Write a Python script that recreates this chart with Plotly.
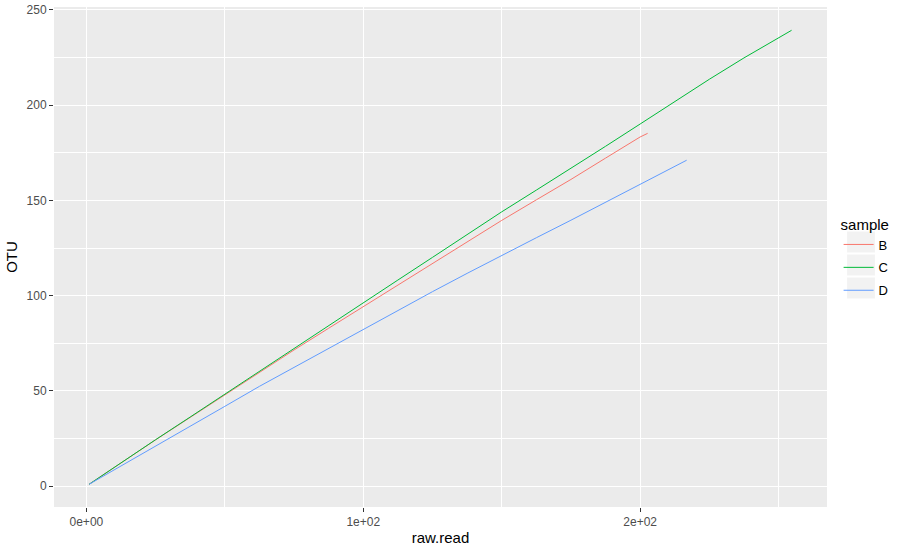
import plotly.graph_objects as go

# Data (raw.read vs OTU rarefaction curves)
b_x = [1, 12.5, 25, 37.5, 50, 62.5, 75, 87.5, 100, 112.5, 125, 137.5, 150, 162.5, 175, 187.5, 200, 202.7]
b_y = [1, 12.3, 24.3, 36.1, 48, 59.9, 71.5, 82.9, 94.2, 105.6, 117, 128.3, 139.5, 150.3, 161, 172.2, 183.3, 185.2]

c_x = [1, 12.5, 25, 37.5, 50, 62.5, 75, 87.5, 100, 112.5, 125, 137.5, 150, 162.5, 175, 187.5, 200, 212.5, 225, 237.5, 250, 254.7]
c_y = [1, 12.3, 24.4, 36.3, 48.3, 60.5, 72.6, 84.5, 96.2, 108.2, 120.1, 132.1, 144, 155.4, 166.8, 178.4, 190.1, 201.9, 213.6, 224.8, 235.2, 239.3]

d_x = [1, 12.5, 25, 37.5, 50, 62.5, 75, 87.5, 100, 112.5, 125, 137.5, 150, 162.5, 175, 187.5, 200, 208.3, 216.8]
d_y = [1, 10.5, 21, 31.6, 41.9, 52.4, 62.4, 72.5, 82.5, 92.4, 102.1, 111.7, 121.2, 130.4, 139.6, 149, 158.6, 165, 171.1]

x_ticks = [0, 100, 200]
x_ticklabels = ["0e+00", "1e+02", "2e+02"]
y_ticks = [0, 50, 100, 150, 200, 250]

series = [("B", b_x, b_y, "#F8766D"), ("C", c_x, c_y, "#00BA38"), ("D", d_x, d_y, "#619CFF")]

fig = go.Figure()
for name, xs, ys, col in series:
    fig.add_trace(go.Scatter(x=xs, y=ys, mode="lines", name=name, legendgroup=name,
                             line=dict(color=col, width=1)))

xmin, xmax = 1, 254.8
ymin, ymax = 1, 239.6
xr = xmax - xmin
yr = ymax - ymin

# legend key backgrounds (ggplot grey95 key boxes)
key_boxes = [(0.551, 0.509), (0.505, 0.463), (0.459, 0.417)]
shapes = [dict(type="rect", xref="paper", yref="paper", x0=1.026, x1=1.062, y0=y0, y1=y1,
               fillcolor="#F2F2F2", line=dict(width=0), layer="below")
          for (y1, y0) in key_boxes]

fig.update_layout(
    width=913, height=551,
    margin=dict(l=54, r=86, t=7, b=44, autoexpand=False),
    paper_bgcolor="white",
    plot_bgcolor="#EBEBEB",
    font=dict(family="Liberation Sans, Arial, sans-serif", color="#4D4D4D", size=12),
    shapes=shapes,
    legend=dict(
        title=dict(text="sample", font=dict(size=15, color="black")),
        x=1.015, xanchor="left", y=0.498, yanchor="middle",
        font=dict(size=13, color="black"),
        bgcolor="rgba(0,0,0,0)",
        tracegroupgap=3,
        itemwidth=30,
    ),
    xaxis=dict(
        range=[xmin - 0.05 * xr, xmax + 0.05 * xr],
        tickvals=x_ticks, ticktext=x_ticklabels,
        showgrid=True, gridcolor="white", gridwidth=1.1,
        minor=dict(dtick=50, tick0=0, showgrid=True, gridcolor="white", gridwidth=0.5),
        zeroline=False, showline=False, automargin=False,
        ticks="outside", ticklen=4, tickcolor="#333333", tickwidth=1,
        tickfont=dict(size=12, color="#4D4D4D"),
        title=dict(text="raw.read", font=dict(size=15, color="black"), standoff=4),
    ),
    yaxis=dict(
        range=[ymin - 0.05 * yr, ymax + 0.05 * yr],
        tickvals=y_ticks,
        showgrid=True, gridcolor="white", gridwidth=1.1,
        minor=dict(dtick=25, tick0=0, showgrid=True, gridcolor="white", gridwidth=0.5),
        zeroline=False, showline=False, automargin=False,
        ticks="outside", ticklen=4, tickcolor="#333333", tickwidth=1,
        tickfont=dict(size=12, color="#4D4D4D"),
        title=dict(text="OTU", font=dict(size=15, color="black"), standoff=5),
    ),
)

fig.write_html("out.html", config={"displayModeBar": False},
               post_script="document.body.style.margin='0';")
